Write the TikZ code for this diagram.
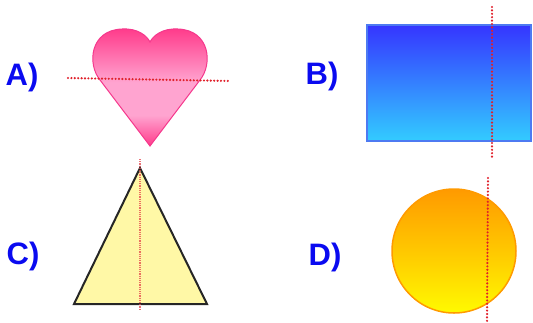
\documentclass[tikz,border=0pt]{standalone}
\usepackage{fontspec}
\setmainfont{Liberation Sans}
\usepackage{xcolor}
\usetikzlibrary{positioning}

\definecolor{labelblue}{HTML}{0A0AF0}
\definecolor{axisred}{HTML}{E0202A}
\definecolor{heartdark}{HTML}{FF3A8A}
\definecolor{heartlight}{HTML}{FFA4D0}
\definecolor{heartline}{HTML}{F5388C}
\definecolor{boxtop}{HTML}{3535FF}
\definecolor{boxbottom}{HTML}{33CCFF}
\definecolor{boxline}{HTML}{4D7AF2}
\definecolor{triyellow}{HTML}{FFF8A6}
\definecolor{sunorange}{HTML}{FF9A00}
\definecolor{sunmid}{HTML}{FFC800}
\definecolor{sunyellow}{HTML}{FFFA00}

\pgfdeclareverticalshading{heartshade}{100bp}{color(0bp)=(heartdark); color(25bp)=(heartdark);
    color(38bp)=(heartlight); color(52bp)=(heartlight); color(75bp)=(heartdark); color(100bp)=(heartdark)}
\pgfdeclareverticalshading{sunshade}{100bp}{color(0bp)=(sunyellow); color(25bp)=(sunyellow);
    color(50bp)=(sunmid); color(75bp)=(sunorange); color(100bp)=(sunorange)}

\begin{document}
\begin{tikzpicture}[
    x=1pt, y=-1pt,
    letter/.style={text=labelblue, font=\fontsize{31}{31}\selectfont\bfseries, inner sep=0pt},
    axis/.style={axisred, line width=2.4pt, line cap=round, dash pattern=on 0pt off 3.4pt},
]
    \useasboundingbox (0,0) rectangle (533,322);

    % labels
    \node[letter] (labA) at (22,77) {A)};
    \node[letter] (labB) at (322,76) {B)};
    \node[letter] (labC) at (23,256) {C)};
    \node[letter] (labD) at (325,257) {D)};

    % heart
    \draw[heartline, line width=1pt, shading=heartshade]
        (150,146) -- (100,80) .. controls (87,64) and (90,30) .. (122,29)
        .. controls (138,28) and (147,36) .. (150,42)
        .. controls (153,36) and (162,28) .. (178,29)
        .. controls (210,30) and (213,64) .. (200,80) -- cycle;
    \draw[axis] (68,78) -- (231,81);

    % rectangle
    \draw[boxline, line width=1.5pt, top color=boxtop, bottom color=boxbottom]
        (367,25) rectangle (531,141);
    \draw[axis] (492,7) -- (492,158);

    % triangle
    \draw[black!85, line width=2pt, fill=triyellow] (140,168) -- (207,304) -- (74,304) -- cycle;
    \draw[axisred!85, opacity=0.75, line width=2pt, dash pattern=on 1.2pt off 1pt] (140,159) -- (140,310);

    % circle
    \draw[sunorange, line width=1.5pt, shading=sunshade] (454,251) circle (62);
    \draw[axis] (488,178) -- (487,321);
\end{tikzpicture}
\end{document}
